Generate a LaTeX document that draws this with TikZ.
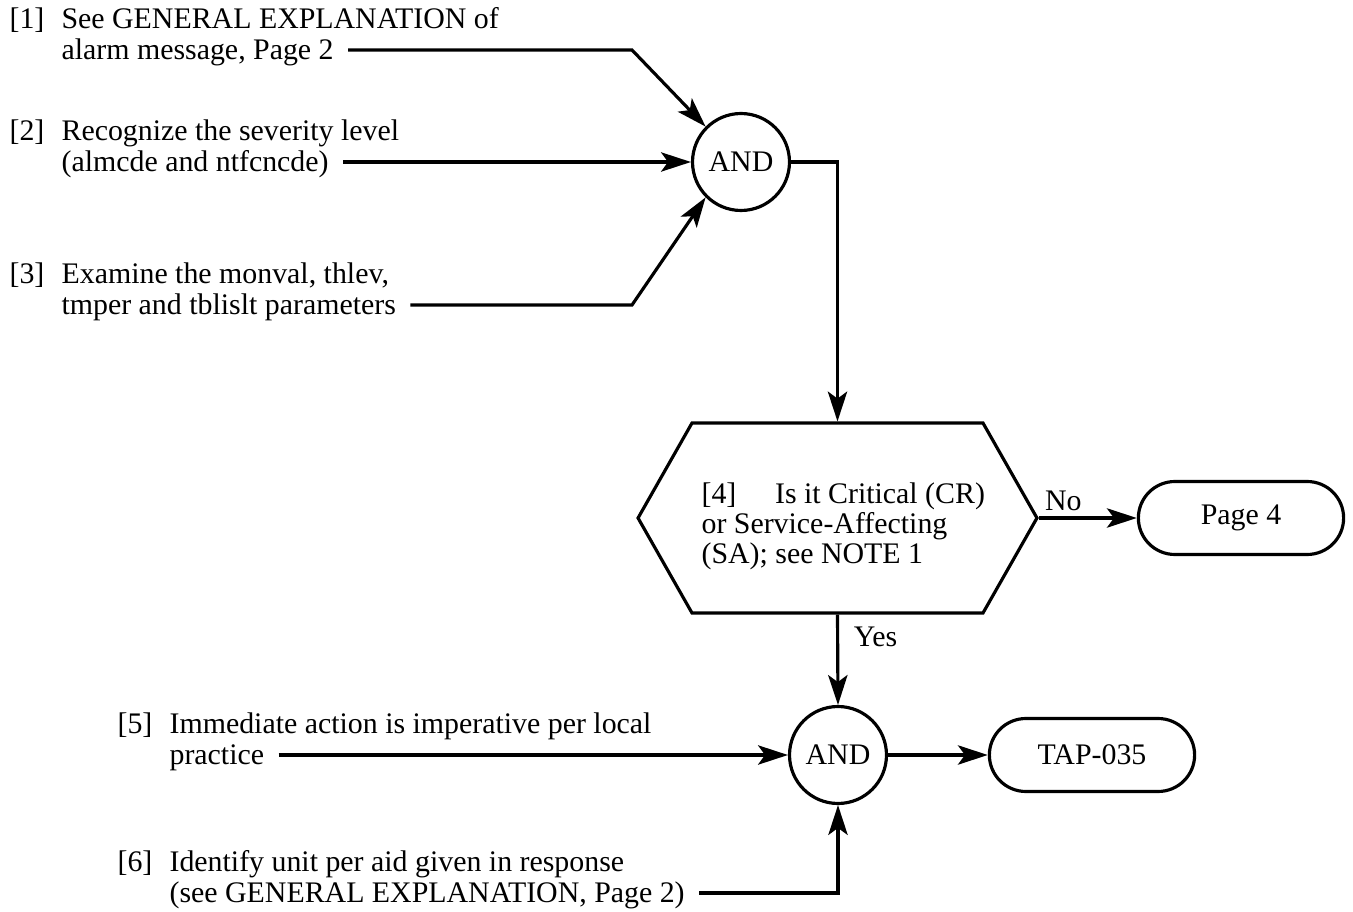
\documentclass[tikz,border=0pt]{standalone}
\usepackage{fontspec}
\setmainfont{Liberation Serif}
\usetikzlibrary{positioning,shapes,shapes.symbols,shapes.misc,arrows.meta,calc}

\begin{document}
\begin{tikzpicture}[x=0.02cm, y=-0.02cm, line width=1.8pt,
    font=\fontsize{17}{18}\selectfont,
    flow/.style={-{Stealth[length=17pt,width=11pt,inset=4pt]}},
    steptext/.style={anchor=west, inner sep=0pt, text height=11.2pt, text depth=0pt},
    gate/.style={draw, circle, minimum size=1.94cm, inner sep=0pt},
    terminal/.style={draw, rounded rectangle, minimum width=4.34cm, minimum height=1.46cm},
    decision/.style={draw, signal, signal to=west and east, signal pointer angle=120.8,
      minimum width=7.98cm, minimum height=3.8cm, inner sep=0pt}]
  \useasboundingbox (0,0) rectangle (1353,912);

  \foreach \n/\x/\y/\a/\b in {1/60/19/{See GENERAL EXPLANATION of}/{alarm message, Page 2},
      2/60/131/{Recognize the severity level}/{(almcde and ntfcncde)},
      3/60/274/{Examine the monval, thlev,}/{tmper and tblislt parameters},
      5/168/724/{Immediate action is imperative per local}/{practice},
      6/168/862/{Identify unit per aid given in response}/{(see GENERAL EXPLANATION, Page 2)}} {
    \node[steptext] (k\n) at (\x-52,\y) {[\n]};
    \node[steptext] (s\n-a) at (\x,\y) {\a};
    \node[steptext] (s\n-b) at (\x,\y+31) {\b};
  }

  \node[gate] (and1) at (741,162) {AND};
  \node[gate] (and2) at (838,755) {AND};
  \node[decision] (q4) at (837.5,518) {};
  \node[anchor=west, align=left, inner sep=0pt,
    font=\fontsize{17}{17}\selectfont] (q4t) at (700,526)
    {[4]\hspace{22pt}Is it Critical (CR)\\or Service-Affecting\\(SA); see NOTE 1};
  \node[terminal] (p4) at (1241,518) {Page 4};
  \node[terminal] (tap) at (1092,755) {TAP-035};

  \coordinate (j1) at (632,50);
  \coordinate (j3) at (632,305);
  \draw[flow, shorten <=0.26cm] (s1-b.east) -- (j1) -- (and1.135);
  \draw[flow, shorten <=0.26cm] (s2-b.east) -- (and1.west);
  \draw[flow, shorten <=0.26cm] (s3-b.east) -- (j3) -- (and1.225);
  \draw[flow] (and1.east) -| (q4.north);
  \draw[flow] (q4.east) -- (p4.west) node[pos=0.25, above] (no) {No};
  \draw[flow] (q4.south) -- (and2.north) node[pos=0.25, right=5pt] (yes) {Yes};
  \draw[flow, shorten <=0.26cm] (s5-b.east) -- (and2.west);
  \draw[flow, shorten <=0.26cm] (s6-b.east) -| (and2.south);
  \draw[flow] (and2.east) -- (tap.west);
\end{tikzpicture}
\end{document}
